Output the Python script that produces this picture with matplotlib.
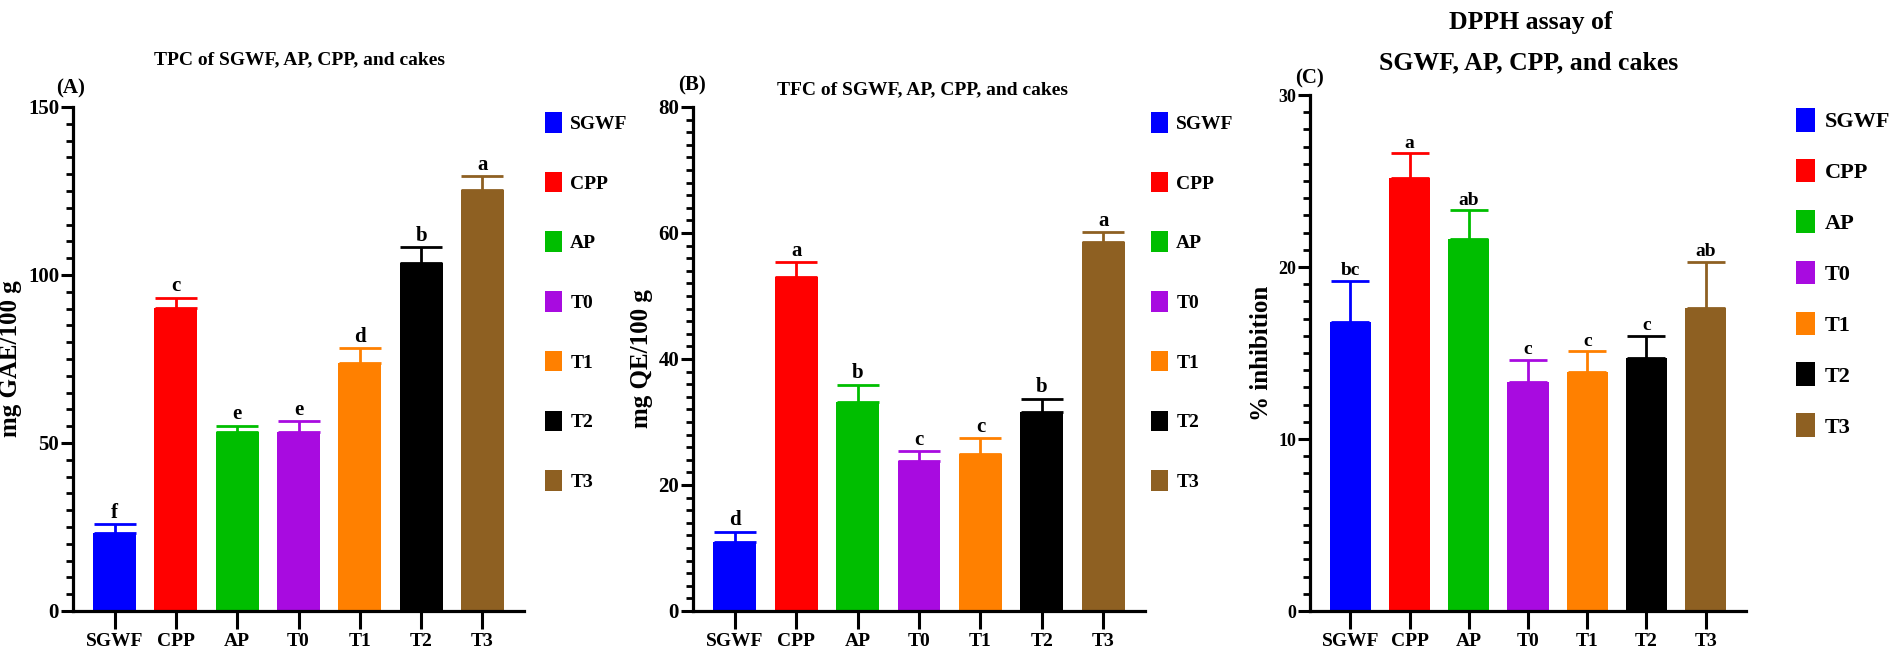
import matplotlib
matplotlib.use('Agg')
import matplotlib.pyplot as plt
from matplotlib.patches import Patch
from matplotlib.ticker import MultipleLocator

plt.rcParams['font.family'] = ['Liberation Serif', 'DejaVu Serif']
plt.rcParams['font.weight'] = 'bold'

W, H = 1892, 662

categories = ['SGWF', 'CPP', 'AP', 'T0', 'T1', 'T2', 'T3']
colors = ['#0000FF', '#FF0000', '#00BE00', '#A80BE0', '#FF8000', '#000000', '#8E6022']

tpc = [23.2, 90.3, 53.3, 53.3, 73.7, 103.5, 125.4]
tpc_err = [2.6, 3.0, 1.9, 3.2, 4.6, 4.7, 4.0]
tpc_letters = ['f', 'c', 'e', 'e', 'd', 'b', 'a']

tfc = [11.0, 53.0, 33.2, 23.8, 24.9, 31.6, 58.5]
tfc_err = [1.6, 2.4, 2.7, 1.6, 2.5, 2.1, 1.6]
tfc_letters = ['d', 'a', 'b', 'c', 'c', 'b', 'a']

dpph = [16.8, 25.2, 21.6, 13.3, 13.9, 14.7, 17.6]
dpph_err = [2.4, 1.4, 1.7, 1.3, 1.2, 1.3, 2.7]
dpph_letters = ['bc', 'a', 'ab', 'c', 'c', 'c', 'ab']


def box(x0, y0, x1, y1):
    # pixel box (top-left origin) -> figure fraction rect
    return [x0 / W, 1 - y1 / H, (x1 - x0) / W, (y1 - y0) / H]


def fx(x):
    return x / W


def fy(y):
    return 1 - y / H


def panel(ax, vals, errs, letters, ylim, major, minor, ylabel,
          capsize=15, letter_size=15, ytick_size=15):
    x = list(range(len(categories)))
    ax.bar(x, vals, width=0.7, color=colors, edgecolor='none', zorder=2)
    for i in x:
        ax.errorbar(i, vals[i], yerr=[[0], [errs[i]]], ecolor=colors[i],
                    elinewidth=2.0, capsize=capsize, capthick=2.0,
                    fmt='none', zorder=1)
        ax.annotate(letters[i], (i, vals[i] + errs[i]), xytext=(0, 1),
                    textcoords='offset points', ha='center', va='bottom',
                    fontsize=letter_size, fontweight='bold')
    ax.set_xlim(-0.68, 6.68)
    ax.set_ylim(*ylim)
    ax.yaxis.set_major_locator(MultipleLocator(major))
    ax.yaxis.set_minor_locator(MultipleLocator(minor))
    ax.set_xticks(x)
    ax.set_xticklabels(categories, fontsize=14, fontweight='bold')
    for lab in ax.get_yticklabels():
        lab.set_fontsize(ytick_size)
        lab.set_fontweight('bold')
    ax.set_ylabel(ylabel, fontsize=18, fontweight='bold', labelpad=4)
    for s in ['top', 'right']:
        ax.spines[s].set_visible(False)
    for s in ['left', 'bottom']:
        ax.spines[s].set_linewidth(2.3)
    ax.tick_params(axis='y', which='major', length=9, width=2.2, pad=1)
    ax.tick_params(axis='y', which='minor', length=5, width=2.0)
    ax.tick_params(axis='x', which='major', length=13, width=2.2, pad=3)


def legend(ax, x, y, pitch, size):
    handles = [Patch(facecolor=c, edgecolor='none') for c in colors]
    ax.legend(handles, categories, loc='upper left',
              bbox_to_anchor=(fx(x), fy(y)), bbox_transform=fig.transFigure,
              frameon=False, handlelength=0.85,
              handleheight=1.25, handletextpad=0.45, borderpad=0,
              borderaxespad=0, labelspacing=pitch,
              prop={'weight': 'bold', 'size': size})


fig = plt.figure(figsize=(W / 100, H / 100), dpi=100)

ax1 = fig.add_axes(box(73, 107, 524, 611))
panel(ax1, tpc, tpc_err, tpc_letters, (0, 150), 50, 5, 'mg GAE/100 g')
fig.text(fx(300), fy(60), 'TPC of SGWF, AP, CPP, and cakes', ha='center',
         va='center', fontsize=14, fontweight='bold')
fig.text(fx(71), fy(88), '(A)', ha='center', va='center', fontsize=15,
         fontweight='bold')
legend(ax1, 545, 112, 2.0, 14)

ax2 = fig.add_axes(box(693, 107, 1145, 611))
panel(ax2, tfc, tfc_err, tfc_letters, (0, 80), 20, 2, 'mg QE/100 g')
fig.text(fx(922), fy(90), 'TFC of SGWF, AP, CPP, and cakes', ha='center',
         va='center', fontsize=14, fontweight='bold')
fig.text(fx(692), fy(85), '(B)', ha='center', va='center', fontsize=15,
         fontweight='bold')
legend(ax2, 1151, 112, 2.0, 14)

ax3 = fig.add_axes(box(1310, 95, 1746, 611))
panel(ax3, dpph, dpph_err, dpph_letters, (0, 30), 10, 1, '% inhibition',
      capsize=14, letter_size=14, ytick_size=13)
fig.text(fx(1531), fy(22), 'DPPH assay of', ha='center', va='center',
         fontsize=18.5, fontweight='bold')
fig.text(fx(1529), fy(63), 'SGWF, AP, CPP, and cakes', ha='center',
         va='center', fontsize=18.5, fontweight='bold')
fig.text(fx(1309), fy(78), '(C)', ha='center', va='center', fontsize=15,
         fontweight='bold')
legend(ax3, 1796, 108, 1.2, 16)

fig.savefig('out.png', dpi=100)
